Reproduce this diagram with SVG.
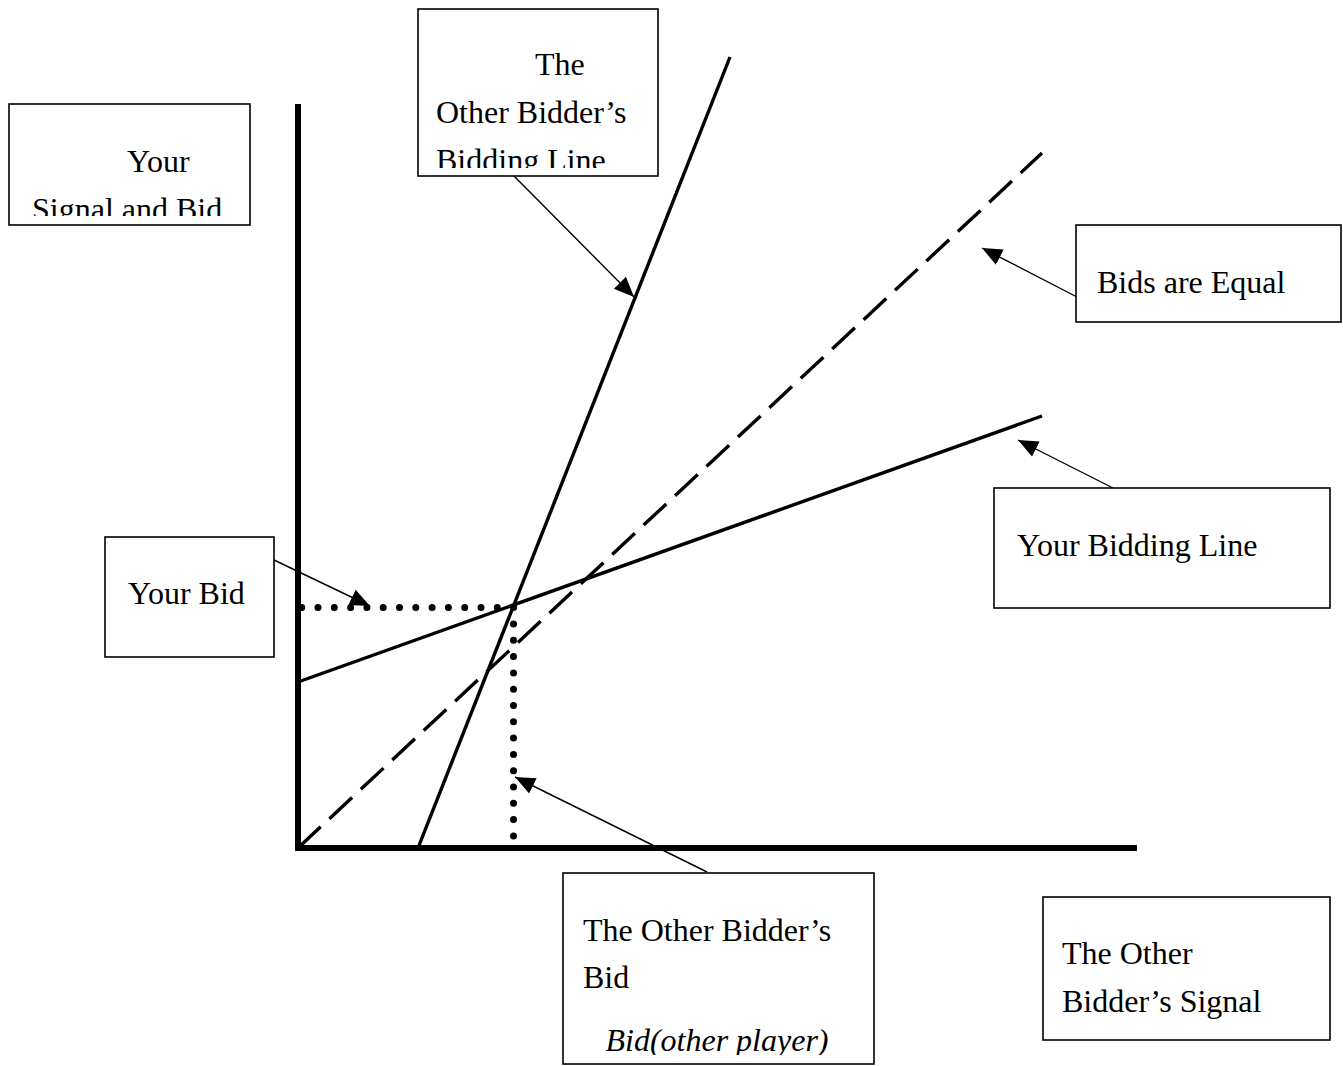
<svg xmlns="http://www.w3.org/2000/svg" width="1343" height="1066" viewBox="0 0 1343 1066">
<style>
.box{fill:#fff;stroke:#000;stroke-width:1.6}
.t{font-family:"Liberation Serif","Times New Roman",serif;font-size:32px;fill:#000}
.it{font-style:italic}
.axis{stroke:#000;stroke-width:6;fill:none}
.ln{stroke:#000;stroke-width:3.4;fill:none}
.dash{stroke:#000;stroke-width:3.4;fill:none;stroke-dasharray:31 12}
.dot{stroke:#000;stroke-width:7;stroke-linecap:round;stroke-dasharray:0 16.3;fill:none}
.con{stroke:#000;stroke-width:1.4;fill:none;marker-end:url(#ah)}
</style>
<defs>
<marker id="ah" markerUnits="userSpaceOnUse" markerWidth="22" markerHeight="20" viewBox="0 0 22 20" refX="20" refY="10" orient="auto">
<path d="M0,1.5 L20,10 L0,18.5 Z" fill="#000"/>
</marker>
<clipPath id="c1"><rect x="9" y="104" width="241" height="112"/></clipPath>
<clipPath id="c2"><rect x="418" y="9" width="240" height="159"/></clipPath>
<clipPath id="c3"><rect x="563" y="873" width="311" height="182"/></clipPath>
</defs>
<g id="chart">
<line class="axis" x1="298" y1="104" x2="298" y2="851"/>
<line class="axis" x1="295" y1="848" x2="1137" y2="848"/>
<line class="ln" x1="418" y1="848" x2="730" y2="57"/>
<line class="dash" x1="298" y1="848" x2="1042" y2="153"/>
<line class="ln" x1="298" y1="682" x2="1042" y2="416"/>
<line class="dot" x1="301.7" y1="607.5" x2="520" y2="607.5"/>
<line class="dot" x1="513.5" y1="624" x2="513.5" y2="840"/>
</g>
<g id="connectors">
<line class="con" x1="514" y1="176" x2="634" y2="297"/>
<line class="con" x1="1077" y1="297" x2="982" y2="248"/>
<line class="con" x1="1113" y1="488" x2="1018" y2="440"/>
<line class="con" x1="274" y1="560" x2="370" y2="606"/>
<line class="con" x1="707" y1="872" x2="515" y2="777"/>
</g>
<g id="node-your-signal">
<rect class="box" x="9" y="104" width="241" height="121"/>
<g clip-path="url(#c1)">
<text class="t" x="127" y="172">Your</text>
<text class="t" x="32" y="220">Signal and Bid</text>
</g>
</g>
<g id="node-other-bidding-line">
<rect class="box" x="418" y="9" width="240" height="167"/>
<g clip-path="url(#c2)">
<text class="t" x="535" y="75">The</text>
<text class="t" x="436" y="123">Other Bidder’s</text>
<text class="t" x="436" y="171">Bidding Line</text>
</g>
</g>
<g id="node-bids-equal">
<rect class="box" x="1076" y="225" width="265" height="97"/>
<text class="t" x="1097" y="293">Bids are Equal</text>
</g>
<g id="node-your-bidding-line">
<rect class="box" x="994" y="488" width="336" height="120"/>
<text class="t" x="1017" y="556">Your Bidding Line</text>
</g>
<g id="node-your-bid">
<rect class="box" x="105" y="537" width="169" height="120"/>
<text class="t" x="128" y="604">Your Bid</text>
</g>
<g id="node-other-bid">
<rect class="box" x="563" y="873" width="311" height="191"/>
<g clip-path="url(#c3)">
<text class="t" x="583" y="941">The Other Bidder’s</text>
<text class="t" x="583" y="988">Bid</text>
<text class="t it" x="717" y="1051" text-anchor="middle">Bid(other player)</text>
</g>
</g>
<g id="node-other-signal">
<rect class="box" x="1043" y="897" width="287" height="143"/>
<text class="t" x="1062" y="964">The Other</text>
<text class="t" x="1062" y="1012">Bidder’s Signal</text>
</g>
</svg>
